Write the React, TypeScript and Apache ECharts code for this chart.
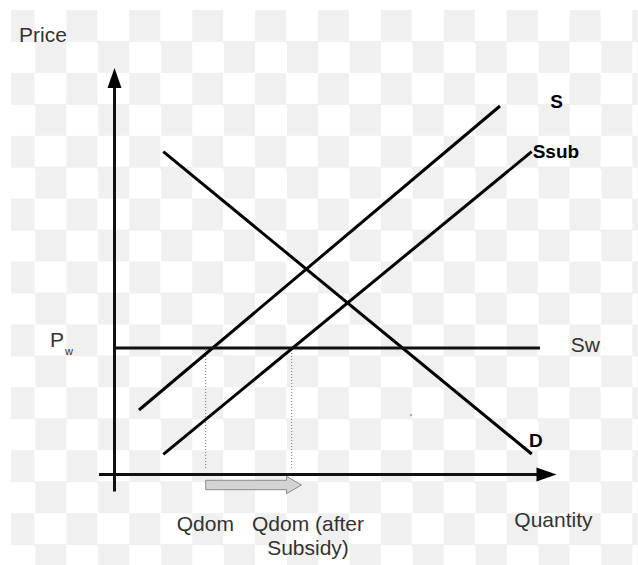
import React, { useEffect, useRef } from "react";
import * as echarts from "echarts";

// Curves (data units: quantity on x, price on y; origin at axes crossing)
const supplyS = [[24.5, 64.5], [385.5, 368.5]];
const supplySub = [[48.8, 20.2], [417.2, 322.8]];
const demandD = [[48.8, 322.8], [417.2, 20.5]];
const worldSupply = [[0, 126.5], [425.5, 126.5]];
const qDomLine = [[91.2, 124.5], [91.2, 6.5]];
const qDomSubLine = [[177.2, 124.5], [177.2, 6.5]];
const xAxisLine = [[-15.5, 0], [442, 0]];
const yAxisLine = [[0, -17], [0, 406.5]];
const shiftArrow = [[91.2, -10.5], [172, -10.5], [187, -10.5]];
const strayDot = [[296.5, 59.5]];

const FONT = "'Liberation Sans', Arial, Helvetica, sans-serif";

export default function App() {
  const ref = useRef<HTMLDivElement>(null);
  useEffect(() => {
    if (!ref.current) return;
    const chart = echarts.init(ref.current, null, { renderer: "svg" });
    const blackLine = (name: string, data: number[][], w = 3, color = "#000") => ({
      name,
      type: "line",
      data,
      symbol: "none",
      silent: true,
      lineStyle: { color, width: w, cap: "butt" },
      z: 3,
    });
    const dotted = (name: string, data: number[][]) => ({
      name,
      type: "line",
      data,
      symbol: "none",
      silent: true,
      lineStyle: { color: "#777", width: 1, type: [1, 2] },
      z: 2,
    });
    const reg = (text: string, x: number, y: number, size = 21, extra: any = {}) => ({
      type: "text",
      x,
      y,
      silent: true,
      style: {
        text,
        font: `${size}px ${FONT}`,
        fill: "#333",
        verticalAlign: "middle",
        align: "left",
        ...extra,
      },
    });
    const bold = (text: string, x: number, y: number, extra: any = {}) => ({
      type: "text",
      x,
      y,
      silent: true,
      style: {
        text,
        font: `bold 19px ${FONT}`,
        fill: "#000",
        verticalAlign: "middle",
        align: "left",
        ...extra,
      },
    });
    chart.setOption({
      animation: false,
      grid: { left: 94.5, top: 54.5, width: 480, height: 450 },
      xAxis: { type: "value", min: -20, max: 460, show: false },
      yAxis: { type: "value", min: -30, max: 420, show: false },
      series: [
        blackLine("S", supplyS),
        blackLine("Ssub", supplySub),
        blackLine("D", demandD),
        blackLine("Sw", worldSupply, 2.8, "#111"),
        dotted("Qdom", qDomLine),
        dotted("Qdom sub", qDomSubLine),
        {
          name: "dot",
          type: "scatter",
          data: strayDot,
          symbolSize: 2.5,
          itemStyle: { color: "#999" },
          silent: true,
        },
        {
          name: "axes",
          type: "custom",
          data: [[0, 0]],
          silent: true,
          z: 4,
          renderItem: (_params: any, api: any) => {
            const HL = 20;
            const HW = 14;
            const children: any[] = [];
            const xa0 = api.coord(xAxisLine[0]);
            const xa1 = api.coord(xAxisLine[1]);
            children.push({
              type: "line",
              shape: { x1: xa0[0], y1: xa0[1], x2: xa1[0] - HL + 2, y2: xa1[1] },
              style: { stroke: "#111", lineWidth: 3 },
            });
            children.push({
              type: "polygon",
              shape: {
                points: [
                  [xa1[0], xa1[1]],
                  [xa1[0] - HL, xa1[1] - HW / 2],
                  [xa1[0] - HL, xa1[1] + HW / 2],
                ],
              },
              style: { fill: "#000" },
            });
            const ya0 = api.coord(yAxisLine[0]);
            const ya1 = api.coord(yAxisLine[1]);
            children.push({
              type: "line",
              shape: { x1: ya0[0], y1: ya0[1], x2: ya1[0], y2: ya1[1] + HL - 2 },
              style: { stroke: "#111", lineWidth: 3 },
            });
            children.push({
              type: "polygon",
              shape: {
                points: [
                  [ya1[0], ya1[1]],
                  [ya1[0] - HW / 2, ya1[1] + HL],
                  [ya1[0] + HW / 2, ya1[1] + HL],
                ],
              },
              style: { fill: "#000" },
            });
            const a0 = api.coord(shiftArrow[0]);
            const a1 = api.coord(shiftArrow[1]);
            const a2 = api.coord(shiftArrow[2]);
            const bh = 4.7;
            const hh = 8.7;
            children.push({
              type: "polygon",
              shape: {
                points: [
                  [a0[0], a0[1] - bh],
                  [a1[0], a1[1] - bh],
                  [a1[0], a1[1] - hh],
                  [a2[0], a2[1]],
                  [a1[0], a1[1] + hh],
                  [a1[0], a1[1] + bh],
                  [a0[0], a0[1] + bh],
                ],
              },
              style: { fill: "#d3d3d3", stroke: "#8c8c8c", lineWidth: 1 },
            });
            return { type: "group", children };
          },
        },
      ],
      graphic: [
        reg("Price", 19, 34.3),
        reg("P", 50, 339),
        reg("w", 65, 351.2, 11),
        reg("Sw", 570.7, 344.7),
        reg("Qdom", 176.7, 523),
        reg("Qdom (after", 308, 523, 21, { align: "center" }),
        reg("Subsidy)", 308, 547, 21, { align: "center" }),
        reg("Quantity", 514.3, 519.2),
        bold("S", 556.7, 101.2, { align: "center" }),
        bold("Ssub", 532.7, 151.7),
        bold("D", 529, 440),
      ],
    });
    return () => chart.dispose();
  }, []);

  return (
    <div style={{ position: "fixed", left: 0, top: 0, width: 638, height: 565, background: "#fff" }}>
      <div
        style={{
          position: "absolute",
          left: 11,
          top: 10,
          width: 627,
          height: 555,
          backgroundImage:
            "conic-gradient(#fff 0 25%, #f0f0f0 0 50%, #fff 0 75%, #f0f0f0 0)",
          backgroundSize: "62.9px 62.9px",
          backgroundPosition: "-7.5px 0px",
        }}
      />
      <div ref={ref} style={{ position: "absolute", left: 0, top: 0, width: 638, height: 565 }} />
    </div>
  );
}
